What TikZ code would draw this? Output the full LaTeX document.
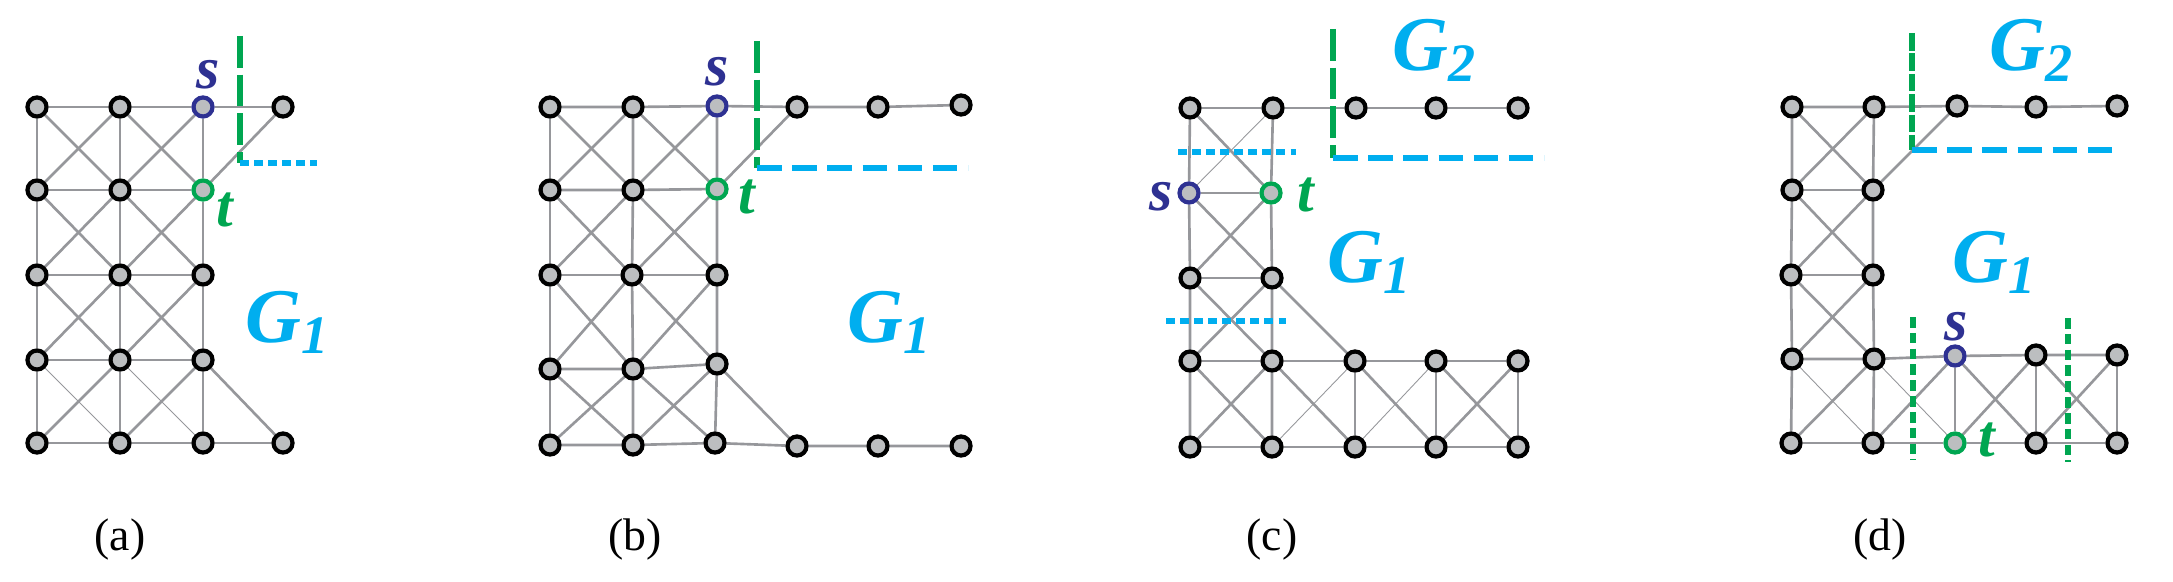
\documentclass[tikz,border=0pt]{standalone}
\usepackage{fontspec}
\setmainfont{Liberation Serif}
\usetikzlibrary{backgrounds}
\definecolor{ecol}{RGB}{150,151,155}
\definecolor{nfill}{RGB}{188,190,192}
\definecolor{sblue}{RGB}{46,49,146}
\definecolor{tgreen}{RGB}{0,166,81}
\definecolor{gcyan}{RGB}{0,174,239}
\tikzset{
 v/.style={circle,draw=black,line width=1.2pt,fill=nfill,minimum size=0.19cm,inner sep=0pt},
 vs/.style={v,draw=sblue},
 vt/.style={v,draw=tgreen},
 e/.style={draw=ecol,line width=0.75pt},
 thin e/.style={draw=ecol,line width=0.25pt},
 lab/.style={font=\fontsize{17}{17}\selectfont\bfseries\itshape,inner sep=0pt},
 glab/.style={font=\fontsize{22}{22}\selectfont\bfseries\itshape,text=gcyan,inner sep=0pt},
 captext/.style={font=\fontsize{13}{13}\selectfont,inner sep=0pt},
 gcut/.style={draw=tgreen,line width=1.5pt,dash pattern=on 9pt off 2pt},
 gdot/.style={draw=tgreen,line width=1.5pt,dash pattern=on 3pt off 1.5pt},
 ccut/.style={draw=gcyan,line width=1.5pt,dash pattern=on 7pt off 3pt},
 cdot/.style={draw=gcyan,line width=1.5pt,dash pattern=on 2.5pt off 1.5pt},
}
\begin{document}
\begin{tikzpicture}[x=0.01cm,y=-0.01cm]
\useasboundingbox (0,0) rectangle (2173,582);
% ---------- (a)
\foreach \n/\x/\y in {11/37/107,12/120/107,14/283/107,
 21/37/190,22/120/190,
 31/37/275,32/120/275,33/203/275,
 41/37/360,42/120/360,43/203/360,
 51/37/443,52/120/443,53/203/443,54/283/443}
 \node[v] (a\n) at (\x,\y) {};
\node[vs] (a13) at (203,107) {};
\node[vt] (a23) at (203,190) {};
\begin{scope}[on background layer]
\foreach \r in {1,...,5} \draw[e] (a\r1)--(a\r2)--(a\r3);
\foreach \c in {1,2,3} \draw[e] (a1\c)--(a2\c)--(a3\c)--(a4\c)--(a5\c);
\foreach \r/\s in {1/2,2/3,3/4} \foreach \c/\d in {1/2,2/3} {\draw[e] (a\r\c)--(a\s\d); \draw[e] (a\r\d)--(a\s\c);}
\draw[e] (a42)--(a51); \draw[e] (a43)--(a52);
\draw[thin e] (a41)--(a52); \draw[thin e] (a42)--(a53);
\draw[e] (a13)--(a14); \draw[e] (a23)--(a14); \draw[e] (a43)--(a54); \draw[e] (a53)--(a54);
\end{scope}
\coordinate (ag1) at (240,36); \coordinate (ag2) at (240,163); \coordinate (ac2) at (317,163);
\draw[gcut] (ag1)--(ag2);
\draw[cdot] (ag2)--(ac2);
\node[lab,text=sblue] (as) at (208,75) {s};
\node[lab,text=tgreen] (at) at (225,210) {t};
\node[glab] (aG) at (288,322) {G\textsubscript{1}};
\node[captext] (acap) at (120,540) {(a)};
% ---------- (b)
\foreach \n/\x/\y in {11/550/107,12/633/107,14/797/107,15/878/107,16/961/105,
 21/550/190,22/633/190,
 31/550/275,32/632/275,33/717/275,
 41/550/369,42/633/369,43/717/364,
 51/550/445,52/633/445,53/715/443,54/797/446,55/878/446,56/961/446}
 \node[v] (b\n) at (\x,\y) {};
\node[vs] (b13) at (717,106) {};
\node[vt] (b23) at (717,189) {};
\begin{scope}[on background layer]
\foreach \r in {1,...,5} \draw[e] (b\r1)--(b\r2)--(b\r3);
\foreach \c in {1,2,3} \draw[e] (b1\c)--(b2\c)--(b3\c)--(b4\c)--(b5\c);
\foreach \r/\s in {1/2,2/3,3/4,4/5} \foreach \c/\d in {1/2,2/3} {\draw[e] (b\r\c)--(b\s\d); \draw[e] (b\r\d)--(b\s\c);}
\draw[e] (b13)--(b14)--(b15)--(b16); \draw[e] (b23)--(b14);
\draw[e] (b43)--(b54); \draw[e] (b53)--(b54)--(b55)--(b56);
\end{scope}
\coordinate (bg1) at (757,41); \coordinate (bg2) at (757,168); \coordinate (bc2) at (968,168);
\draw[gcut] (bg1)--(bg2);
\draw[ccut] (bg2)--(bc2);
\node[lab,text=sblue] (bs) at (717,72) {s};
\node[lab,text=tgreen] (bt) at (747,197) {t};
\node[glab] (bG) at (890,322) {G\textsubscript{1}};
\node[captext] (bcap) at (635,540) {(b)};
% ---------- (c)
\foreach \n/\x/\y in {11/1190/108,12/1273/108,13/1356/108,14/1436/108,15/1518/108,
 31/1190/278,32/1272/278,
 41/1190/361,42/1272/361,43/1355/361,44/1436/361,45/1518/361,
 51/1190/447,52/1272/447,53/1355/447,54/1436/447,55/1518/447}
 \node[v] (c\n) at (\x,\y) {};
\node[vs] (c21) at (1189,193) {};
\node[vt] (c22) at (1271,193) {};
\begin{scope}[on background layer]
\draw[e] (c11)--(c12)--(c13)--(c14)--(c15);
\foreach \c in {1,2} \draw[e] (c1\c)--(c2\c)--(c3\c)--(c4\c)--(c5\c);
\draw[e] (c11)--(c22); \draw[thin e] (c12)--(c21);
\draw[e] (c21)--(c22); \draw[e] (c31)--(c32);
\foreach \r/\s in {2/3,3/4} {\draw[e] (c\r1)--(c\s2); \draw[e] (c\r2)--(c\s1);}
\draw[e] (c32)--(c43);
\draw[e] (c41)--(c42)--(c43)--(c44)--(c45);
\draw[e] (c51)--(c52)--(c53)--(c54)--(c55);
\foreach \c in {3,4,5} \draw[e] (c4\c)--(c5\c);
\draw[e] (c41)--(c52); \draw[e] (c42)--(c51);
\draw[e] (c42)--(c53); \draw[thin e] (c43)--(c52);
\draw[e] (c43)--(c54); \draw[thin e] (c44)--(c53);
\draw[e] (c44)--(c55); \draw[e] (c45)--(c54);
\end{scope}
\coordinate (cg1) at (1333,29); \coordinate (cg2) at (1333,158); \coordinate (cc2) at (1544,158);
\draw[gcut] (cg1)--(cg2);
\draw[ccut] (cg2)--(cc2);
\coordinate (cd1) at (1178,152); \coordinate (cd2) at (1296,152);
\coordinate (cd3) at (1166,321); \coordinate (cd4) at (1286,321);
\draw[cdot] (cd1)--(cd2); \draw[cdot] (cd3)--(cd4);
\node[lab,text=sblue] (cs) at (1161,197) {s};
\node[lab,text=tgreen] (ct) at (1306,195) {t};
\node[glab] (cG2) at (1435,50) {G\textsubscript{2}};
\node[glab] (cG1) at (1370,262) {G\textsubscript{1}};
\node[captext] (ccap) at (1272,540) {(c)};
% ---------- (d)
\foreach \n/\x/\y in {11/1792/107,12/1874/107,13/1957/106,14/2036/107,15/2117/106,
 21/1792/190,22/1873/190,
 31/1791/275,32/1873/275,
 41/1792/359,42/1874/359,44/2036/355,45/2117/355,
 51/1791/443,52/1873/443,54/2036/443,55/2117/443}
 \node[v] (d\n) at (\x,\y) {};
\node[vs] (d43) at (1955,356) {};
\node[vt] (d53) at (1955,443) {};
\begin{scope}[on background layer]
\draw[e] (d11)--(d12)--(d13)--(d14)--(d15);
\draw[e] (d22)--(d13);
\foreach \c in {1,2} \draw[e] (d1\c)--(d2\c)--(d3\c)--(d4\c)--(d5\c);
\foreach \r in {1,2,3} \draw[e] (d\r1)--(d\r2);
\foreach \r/\s in {1/2,2/3,3/4} {\draw[e] (d\r1)--(d\s2); \draw[e] (d\r2)--(d\s1);}
\draw[e] (d41)--(d42)--(d43)--(d44)--(d45);
\draw[e] (d51)--(d52)--(d53)--(d54)--(d55);
\foreach \c in {3,4,5} \draw[e] (d4\c)--(d5\c);
\draw[e] (d42)--(d51); \draw[thin e] (d41)--(d52);
\draw[e] (d52)--(d43); \draw[thin e] (d42)--(d53);
\draw[e] (d43)--(d54); \draw[e] (d44)--(d53);
\draw[e] (d44)--(d55); \draw[e] (d45)--(d54);
\end{scope}
\coordinate (dg1) at (1912,33); \coordinate (dg2) at (1912,150); \coordinate (dc2) at (2122,150);
\draw[gcut,dash pattern=on 5pt off 0.8pt] (dg1)--(dg2);
\draw[ccut] (dg2)--(dc2);
\coordinate (dd1) at (1913,317); \coordinate (dd2) at (1913,460);
\coordinate (dd3) at (2068,318); \coordinate (dd4) at (2068,462);
\draw[gdot] (dd1)--(dd2); \draw[gdot] (dd3)--(dd4);
\node[lab,text=sblue] (ds) at (1956,327) {s};
\node[lab,text=tgreen] (dt) at (1987,440) {t};
\node[glab] (dG2) at (2032,50) {G\textsubscript{2}};
\node[glab] (dG1) at (1995,262) {G\textsubscript{1}};
\node[captext] (dcap) at (1880,540) {(d)};
\end{tikzpicture}
\end{document}
